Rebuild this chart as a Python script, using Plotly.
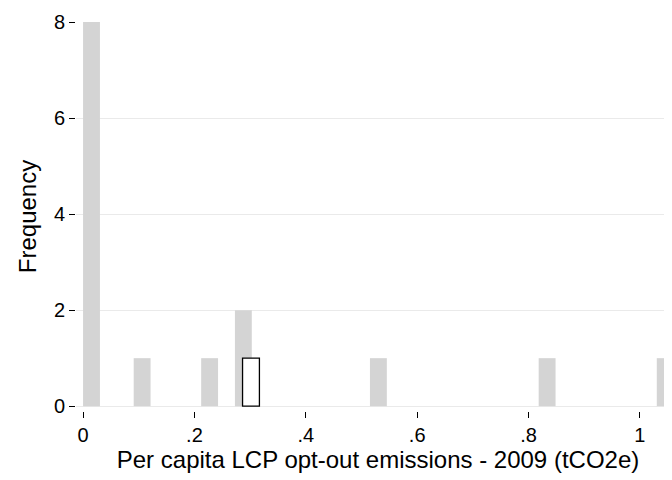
import plotly.graph_objects as go

bin_width = 1 / 33
bin_starts = [0.0, 0.0909, 0.2121, 0.2727, 0.5152, 0.8182, 1.0303]
freqs = [8, 1, 1, 2, 1, 1, 1]
hl_start = [0.2864]
hl_freq = [1]

fig = go.Figure()
fig.add_trace(go.Bar(x=[s + bin_width / 2 for s in bin_starts], y=freqs, width=bin_width,
                     marker=dict(color="#d4d4d4", line=dict(width=0))))
fig.add_trace(go.Bar(x=[s + bin_width / 2 for s in hl_start], y=hl_freq, width=bin_width,
                     marker=dict(color="white", line=dict(color="black", width=1.3))))

fig.update_layout(
    width=672, height=480, showlegend=False, barmode="overlay",
    plot_bgcolor="white", paper_bgcolor="white",
    margin=dict(l=68, r=0, t=14, b=77),
    font=dict(family="Liberation Sans, Arial", size=20, color="black"),
    xaxis=dict(range=[-0.0127, 1.072], tickvals=[0, 0.2, 0.4, 0.6, 0.8, 1],
               ticktext=["0", ".2", ".4", ".6", ".8", "1"], ticks="outside", ticklen=6,
               tickcolor="black", showgrid=False, zeroline=False, showline=False,
               automargin=False,
               title=dict(text="Per capita LCP opt-out emissions - 2009 (tCO2e)", standoff=2)),
    yaxis=dict(range=[-0.1, 8], tickvals=[0, 2, 4, 6, 8], ticks="outside", ticklen=6,
               tickcolor="black", showgrid=True, gridcolor="#eaeaea", zeroline=False,
               showline=False, automargin=False, title=dict(text="Frequency", standoff=10)),
)
fig.write_html("out.html")
